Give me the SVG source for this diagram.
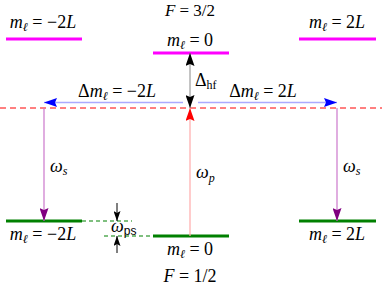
<svg xmlns="http://www.w3.org/2000/svg" width="382" height="290" viewBox="0 0 382 290">
<style>
.t{font-family:'Liberation Serif','Times New Roman',serif;font-size:18px;fill:#000}
.i{font-style:italic}
.sub{font-size:12px}
.mag{stroke:#ff00ff;stroke-width:3}
.grn{stroke:#008000;stroke-width:3}
.gd{stroke:#008000;stroke-width:1.2;stroke-dasharray:4,3}
.rd{stroke:#ff0000;stroke-width:1;stroke-dasharray:6,4}
</style>
<defs>
<marker id="hb" markerWidth="13" markerHeight="9" refX="13" refY="4.5" orient="auto" markerUnits="userSpaceOnUse"><path d="M0,0 L13,4.5 L0,9 L2,4.5 Z" fill="#0000ff"/></marker>
<marker id="hk" markerWidth="13" markerHeight="9" refX="13" refY="4.5" orient="auto" markerUnits="userSpaceOnUse"><path d="M0,0 L13,4.5 L0,9 L2,4.5 Z" fill="#000"/></marker>
<marker id="hks" markerWidth="10" markerHeight="7" refX="10" refY="3.5" orient="auto" markerUnits="userSpaceOnUse"><path d="M0,0 L10,3.5 L0,7 L2,3.5 Z" fill="#000"/></marker>
<marker id="hr" markerWidth="13" markerHeight="9" refX="13" refY="4.5" orient="auto" markerUnits="userSpaceOnUse"><path d="M0,0 L13,4.5 L0,9 L2,4.5 Z" fill="#ff0000"/></marker>
<marker id="hp" markerWidth="13" markerHeight="9" refX="13" refY="4.5" orient="auto" markerUnits="userSpaceOnUse"><path d="M0,0 L13,4.5 L0,9 L2,4.5 Z" fill="#800080"/></marker>
</defs>

<g id="virtual-level">
<line class="rd" x1="0" y1="108" x2="382" y2="108"/>
</g>

<g id="upper-minus2L">
<line class="mag" x1="6" y1="39" x2="82" y2="39"/>
<text class="t" x="43" y="28" text-anchor="middle"><tspan class="i">m</tspan><tspan class="i sub" dy="3">ℓ</tspan><tspan dy="-3"> = −2</tspan><tspan class="i">L</tspan></text>
</g>
<g id="upper-0">
<line class="mag" x1="153" y1="53" x2="229" y2="53"/>
<text class="t" x="190" y="16" text-anchor="middle" style="font-size:17px"><tspan class="i">F</tspan> = 3/2</text>
<text class="t" x="190" y="46" text-anchor="middle"><tspan class="i">m</tspan><tspan class="i sub" dy="3">ℓ</tspan><tspan dy="-3"> = 0</tspan></text>
</g>
<g id="upper-plus2L">
<line class="mag" x1="299" y1="39" x2="376" y2="39"/>
<text class="t" x="337" y="28" text-anchor="middle"><tspan class="i">m</tspan><tspan class="i sub" dy="3">ℓ</tspan><tspan dy="-3"> = 2</tspan><tspan class="i">L</tspan></text>
</g>

<g id="lower-minus2L">
<line class="grn" x1="6" y1="221" x2="82" y2="221"/>
<line class="gd" x1="82" y1="221" x2="132" y2="221"/>
<text class="t" x="43" y="240" text-anchor="middle"><tspan class="i">m</tspan><tspan class="i sub" dy="3">ℓ</tspan><tspan dy="-3"> = −2</tspan><tspan class="i">L</tspan></text>
</g>
<g id="lower-0">
<line class="gd" x1="104" y1="236" x2="153" y2="236"/>
<line class="grn" x1="153" y1="236" x2="229" y2="236"/>
<text class="t" x="190" y="255" text-anchor="middle"><tspan class="i">m</tspan><tspan class="i sub" dy="3">ℓ</tspan><tspan dy="-3"> = 0</tspan></text>
<text class="t" x="190" y="282" text-anchor="middle"><tspan class="i">F</tspan> = 1/2</text>
</g>
<g id="lower-plus2L">
<line class="grn" x1="299" y1="221" x2="376" y2="221"/>
<text class="t" x="337" y="240" text-anchor="middle"><tspan class="i">m</tspan><tspan class="i sub" dy="3">ℓ</tspan><tspan dy="-3"> = 2</tspan><tspan class="i">L</tspan></text>
</g>

<g id="connectors">
<line x1="183" y1="102.5" x2="44" y2="102.5" stroke="#aaaaff" stroke-width="1.5" marker-end="url(#hb)"/>
<line x1="198" y1="102.5" x2="337" y2="102.5" stroke="#aaaaff" stroke-width="1.5" marker-end="url(#hb)"/>
<text class="t" x="117" y="97" text-anchor="middle">Δ<tspan class="i">m</tspan><tspan class="i sub" dy="3">ℓ</tspan><tspan dy="-3"> = −2</tspan><tspan class="i">L</tspan></text>
<text class="t" x="263" y="97" text-anchor="middle">Δ<tspan class="i">m</tspan><tspan class="i sub" dy="3">ℓ</tspan><tspan dy="-3"> = 2</tspan><tspan class="i">L</tspan></text>

<line x1="190" y1="80" x2="190" y2="53" stroke="#888" stroke-width="1" marker-end="url(#hk)"/>
<line x1="190" y1="80" x2="190" y2="108" stroke="#888" stroke-width="1" marker-end="url(#hk)"/>
<text class="t" x="195" y="86">Δ<tspan class="sub" dy="3">hf</tspan></text>

<line x1="190" y1="236" x2="190" y2="108" stroke="#ffaaaa" stroke-width="1.2" marker-end="url(#hr)"/>
<text class="t i" x="196" y="178">ω<tspan class="sub" dy="4">p</tspan></text>

<line x1="44" y1="108" x2="44" y2="221" stroke="#cc77cc" stroke-width="1.2" marker-end="url(#hp)"/>
<text class="t i" x="50" y="172">ω<tspan class="sub" dy="3">s</tspan></text>
<line x1="337" y1="108" x2="337" y2="221" stroke="#cc77cc" stroke-width="1.2" marker-end="url(#hp)"/>
<text class="t i" x="343" y="172">ω<tspan class="sub" dy="3">s</tspan></text>

<line x1="117" y1="203" x2="117" y2="221" stroke="#000" stroke-width="1" marker-end="url(#hks)"/>
<line x1="117" y1="253" x2="117" y2="236" stroke="#000" stroke-width="1" marker-end="url(#hks)"/>
<text class="t i" x="111" y="232">ω<tspan class="sub" dy="3" style="font-style:normal;font-family:'Liberation Sans',Arial,sans-serif">ps</tspan></text>
</g>
</svg>
